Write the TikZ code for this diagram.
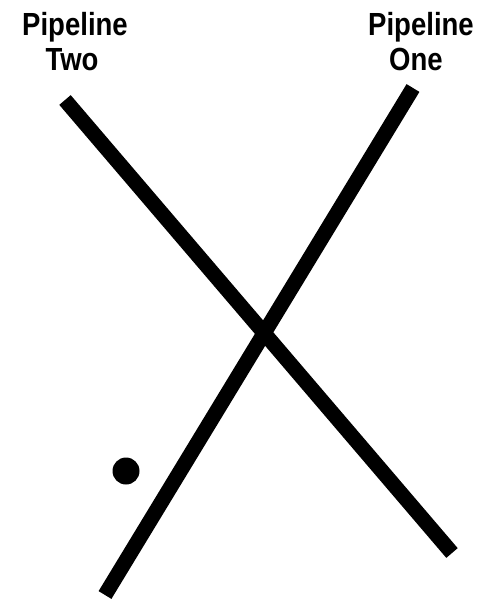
\documentclass[tikz,border=0pt]{standalone}
\usepackage{fontspec}
\setmainfont[FakeStretch=0.86]{Liberation Sans}
\begin{document}
\begin{tikzpicture}[x=1pt,y=-1pt,
  pipe/.style={line width=15pt,line cap=butt,black},
  lbl/.style={font=\bfseries\fontsize{32}{35}\selectfont,inner sep=0pt,anchor=base},
  dot/.style={circle,fill=black,inner sep=0pt,minimum size=27pt}]
\fill[white] (0,0) rectangle (487,600);
\useasboundingbox (0,0) rectangle (487,600);
\node[lbl] (twoA) at (75,35) {Pipeline};
\node[lbl] (twoB) at (72,70) {Two};
\node[lbl] (oneA) at (421,35) {Pipeline};
\node[lbl] (oneB) at (416,70) {One};
\coordinate (twoTop) at (65,100);
\coordinate (twoBot) at (452,553);
\coordinate (oneTop) at (413,88);
\coordinate (oneBot) at (105,595);
\draw[pipe] (twoTop) -- (twoBot);
\draw[pipe] (oneTop) -- (oneBot);
\node[dot] (marker) at (126,471) {};
\end{tikzpicture}
\end{document}
